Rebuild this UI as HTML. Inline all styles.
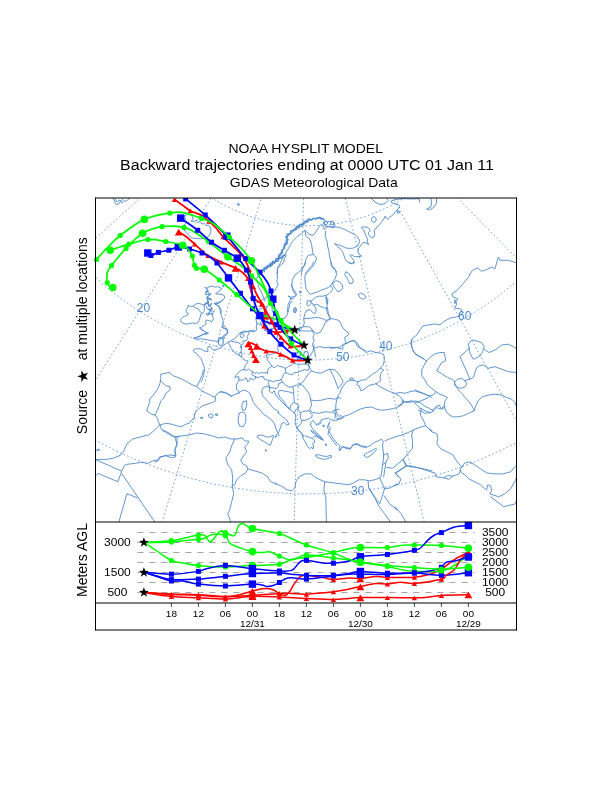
<!DOCTYPE html>
<html lang="en"><head><meta charset="utf-8"><title>NOAA HYSPLIT MODEL - Backward trajectories</title>
<style>html,body{margin:0;padding:0;background:#fff}body{width:612px;height:792px;position:relative;overflow:hidden}</style></head>
<body>
<svg width="612" height="792" viewBox="0 0 612 792" style="position:absolute;left:0;top:0">
<defs><clipPath id="mc"><rect x="96" y="198" width="420.5" height="324"/></clipPath><clipPath id="mc2"><rect x="93" y="198" width="423.5" height="324"/></clipPath></defs>
<g clip-path="url(#mc)" fill="none" stroke="#4f8acb" stroke-width="0.9" stroke-linejoin="round" stroke-linecap="round">
<path d="M184.5 216.0L187.0 214.5L190.0 214.8L192.5 216.5L193.0 219.5L191.0 221.0L194.0 221.5L196.0 220.0L198.0 222.5L200.0 221.5L202.0 224.0L204.5 223.5L206.0 225.5L208.5 225.0L210.0 227.0L211.0 230.0L210.5 233.0L209.0 236.0L206.0 238.0L201.0 238.8L196.0 238.5L192.0 238.0L189.0 235.5L186.5 233.0L184.0 230.0L185.5 227.5L183.5 225.5L186.0 223.5L184.0 221.5L185.5 219.0L184.5 216.0"/>
<path d="M113.0 198.0L114.5 201.0L116.0 204.5L118.5 204.0L120.0 201.5L122.0 203.0L124.0 200.5L126.0 201.5L128.0 199.5L130.0 198.0"/>
<path d="M115.0 199.0L117.0 202.0L119.0 200.0L121.0 201.0L123.0 199.0"/>
<path d="M199.7 327.5L202.2 329.3L204.7 331.8L206.6 333.7L202.8 334.3L199.7 336.2L196.6 337.4L193.5 338.0L196.6 339.3L200.4 338.7L204.1 339.3L207.8 339.9L211.5 340.5L215.3 341.1L218.4 341.1L220.2 339.3L222.1 338.0L224.6 336.2L227.1 334.3L227.7 331.2L225.8 328.7L222.1 327.5"/>
<path d="M254.0 330.6L248.8 331.2L245.7 331.8L242.6 332.5L240.1 333.1L237.6 335.6L234.5 338.7L231.4 340.5L227.7 342.4L223.3 345.5L220.2 348.0L217.1 349.2L214.6 350.5L212.2 349.2L210.3 346.7L208.4 346.1L207.8 348.0L207.8 351.7L204.7 351.1L201.6 349.2L197.9 348.6L194.1 349.2L193.5 351.7L196.0 352.9L198.5 356.0L201.0 358.5L202.2 361.6L203.5 365.4L204.7 368.5L204.1 372.2L203.5 375.9L202.2 379.6L201.0 382.0"/>
<path d="M242.0 333.4L243.6 334.3L243.8 336.2L242.6 337.7L240.7 337.2L240.1 335.2L242.0 333.4"/>
<path d="M263.3 270.3L267.5 267.0L271.7 263.7L276.7 259.5L280.0 255.3L282.5 250.3L285.0 245.3L287.5 240.3L285.8 237.0L290.0 232.8L294.2 229.5L298.3 226.2L303.3 223.7L308.3 220.3L313.3 218.7L319.2 217.8L323.3 218.7L326.7 222.0L330.0 221.2L333.3 222.0L335.0 225.3L333.3 227.8"/>
<path d="M285.8 237.0L288.3 235.7L290.8 234.0L293.3 231.2L296.7 229.5L300.0 227.0L303.3 225.3"/>
<path d="M265.0 268.7L269.2 265.7L273.3 262.8L277.5 258.3L280.3 254.0L283.3 249.0L286.3 244.0L288.3 239.5"/>
<path d="M301.3 274.0L302.5 268.7L305.0 263.7L305.8 259.5L308.3 255.3L313.3 254.5L316.7 257.8L315.0 262.8L312.5 267.0L308.3 271.2L305.8 274.0"/>
<path d="M376.7 227.8L380.8 222.8L384.2 218.7L385.0 216.2L387.5 219.5L390.0 217.0L393.3 214.5L395.8 211.2L398.3 208.7L400.0 207.0L398.3 204.5L395.0 203.7L391.7 202.8L390.8 201.2L395.0 199.5L403.3 198.7L411.7 199.0L419.2 198.7L419.7 202.0"/>
<path d="M397.3 211.0L399.3 211.0L399.3 213.0L397.3 213.0L397.3 211.0"/>
<path d="M373.8 216.5L375.8 217.8L376.3 220.0L375.0 222.0L373.0 222.3L371.5 220.7L371.5 218.3L373.8 216.5"/>
<path d="M371.7 198.7L375.0 202.0L380.0 204.5L385.0 203.7L388.3 200.3L386.7 198.7"/>
<path d="M436.7 198.7L436.3 203.7L433.3 207.8L429.2 210.0L426.7 209.0L430.8 207.0L431.7 202.8L430.8 198.7"/>
<path d="M305.5 262.0L304.3 265.7L301.2 269.5L298.1 272.6L295.0 275.0L292.5 279.4L291.9 284.4L292.5 289.3L294.3 293.0L296.2 294.9L294.3 297.4L291.9 299.3L290.0 298.3"/>
<path d="M299.9 291.3L301.2 291.8L300.9 293.0L299.7 292.8L299.9 291.3"/>
<path d="M295.6 307.9L296.8 309.8L295.2 312.9L293.5 311.9L295.6 307.9"/>
<path d="M313.6 262.0L311.7 265.7L308.6 269.5L306.1 272.6L304.9 276.3L304.9 280.6L305.5 285.0L306.1 288.7L308.0 291.8L310.5 294.3L314.2 293.0L317.9 291.8L321.7 289.9L325.4 288.7L328.5 287.5L330.4 285.6L332.8 288.7L331.6 291.2L329.1 293.7L326.0 295.5L322.3 296.2L318.6 296.2L315.5 297.4L313.0 299.3L311.1 301.7L313.3 304.8L315.5 307.3L316.3 311.1L314.8 313.5L313.0 312.9L309.9 309.3L306.8 310.6"/>
<path d="M332.8 283.7L335.9 280.6L339.7 281.9L342.2 285.0L342.8 288.1L340.9 290.6L337.8 291.8L335.3 288.7L333.5 286.2L332.8 283.7"/>
<path d="M345.9 271.9L348.4 273.2L350.8 276.3L353.3 280.0L352.7 283.1L349.6 283.7L348.4 280.6L346.5 277.5L344.6 274.4L345.9 271.9"/>
<path d="M348.4 262.0L350.2 263.5L352.7 263.7L354.6 262.5"/>
<path d="M358.3 294.3L360.8 293.0L364.5 294.9L366.0 297.4L363.3 299.3L360.2 298.0L358.3 294.3"/>
<path d="M307.4 301.1L310.5 300.5L311.1 303.6L308.6 306.1L306.8 304.8L307.4 301.1"/>
<path d="M326.0 297.4L327.9 299.3L327.5 304.2L326.3 302.0L326.0 297.4"/>
<path d="M306.8 310.6L304.9 313.7L303.7 318.6L304.3 323.0L303.0 326.7L300.6 329.2L298.7 329.8L296.2 329.8"/>
<path d="M294.0 308.7L295.6 307.7L296.2 309.7L294.7 312.4L293.5 311.4L294.0 308.7"/>
<path d="M285.0 255.0L281.3 256.9L277.5 260.0L273.8 263.1L270.1 265.6L266.4 267.4L263.2 269.9L260.1 273.0L257.7 276.1L256.4 279.8L257.7 283.6L258.9 287.3L260.8 291.0L262.6 294.7L263.9 298.5L265.1 301.2"/>
<path d="M283.7 255.6L280.0 258.5L276.5 261.5L272.8 264.3L268.8 266.8L265.4 268.9L262.6 271.4"/>
<path d="M291.2 284.2L292.4 287.9L294.9 291.6L296.8 294.7L294.3 296.6L290.6 297.2L288.1 296.0L291.8 298.5L289.9 300.9L288.1 304.7L287.7 308.4L287.5 312.0"/>
<path d="M267.3 306.3L259.6 309.0L257.0 312.5L255.8 319.0L256.9 323.3L256.2 327.1L256.9 329.9L253.7 332.0L249.6 330.5L248.9 332.4L245.2 330.9L242.6 331.7L239.8 333.1"/>
<path d="M267.3 306.3L265.5 310.7L267.1 314.3L264.2 316.5L261.7 320.1L260.4 323.2L261.7 324.7L262.4 327.5L265.8 328.1L264.2 330.5L266.9 330.9L269.4 329.9L271.2 328.2L273.0 329.0L274.7 327.3L275.6 330.0L277.2 332.8L282.4 331.4L288.0 329.2L293.4 328.2L294.5 328.9L294.4 330.9L297.0 331.6L299.0 330.4L299.4 327.8L301.7 327.5"/>
<path d="M271.8 317.6L272.5 321.0L271.0 323.5L269.7 325.0L266.9 322.9L267.0 319.6L269.9 318.0L271.8 317.6"/>
<path d="M264.0 319.8L265.5 322.0L264.6 323.5L262.4 322.9L262.1 320.1L264.0 319.8"/>
<path d="M270.7 297.4L270.6 302.7L271.8 306.9L272.3 311.0L274.4 314.6L273.0 317.1L274.0 321.2L273.8 322.5L278.3 323.0L278.5 321.1L280.2 319.2L284.7 318.3L287.1 315.2L288.5 310.7L289.2 306.8L290.2 302.8L292.3 301.6"/>
<path d="M270.7 297.4L269.3 293.1L266.6 297.4L262.3 300.0L256.8 302.4L253.8 299.7L251.8 294.5L251.9 287.7"/>
<path d="M203.3 370.0L202.5 374.2L200.0 380.0L196.7 386.7L192.5 385.0L186.7 381.7L180.0 378.3L173.3 375.8L169.2 372.5L165.0 373.3L160.8 374.2L160.8 378.3L160.0 383.3L157.5 389.2L153.3 395.0L149.2 400.0L150.0 401.7L148.3 405.8L146.7 410.8L151.7 414.2L155.0 415.0L157.5 418.3L158.3 421.7L160.0 425.0L162.5 424.2L166.7 423.3L171.7 424.2L176.7 425.8L181.7 426.7L185.8 424.2L189.2 423.3L191.7 420.0L194.7 418.3L194.2 415.0L195.8 411.7L199.2 408.3L202.5 405.8L207.5 404.2L212.5 402.5L215.8 400.8L215.0 397.5L216.7 394.2L220.8 391.7L225.8 392.5L229.2 395.0L232.0 396.7"/>
<path d="M200.8 417.5L202.5 417.2L202.7 418.5L201.2 418.8L200.8 417.5"/>
<path d="M208.3 415.0L210.8 413.7L213.3 415.3L212.0 418.0L209.3 417.3L208.3 415.0"/>
<path d="M215.5 414.2L217.5 413.8L217.8 415.3L215.8 415.5L215.5 414.2"/>
<path d="M220.0 391.7L224.2 392.5L228.3 394.2L231.7 395.8L235.8 394.2L239.2 392.5L241.7 390.8L245.0 390.0L249.2 392.5L251.7 397.5L253.3 402.5L256.7 406.7L260.0 410.0L263.3 414.2L267.5 416.7L270.8 419.2L274.2 423.3L275.8 428.3L277.5 432.5L279.2 435.8"/>
<path d="M278.3 433.3L279.2 430.8L280.8 426.7L281.7 423.3L284.2 422.5L286.7 425.0L289.2 424.2L286.7 420.0L282.5 416.7L277.5 412.5L279.2 412.0L277.5 410.8L273.3 408.3L270.0 404.2L266.7 400.0L262.5 395.8L261.7 390.8L263.3 387.5L268.3 385.8L270.0 387.5L269.2 390.8L271.7 393.3L274.2 390.8L275.8 395.0L279.2 399.2L283.3 403.3L287.5 407.5L291.7 410.8L295.0 413.3L295.8 417.5L295.0 422.5L296.7 427.5L299.2 430.8L301.7 433.3L303.3 437.0"/>
<path d="M243.3 401.7L246.7 400.8L246.7 405.8L245.0 410.0L242.5 410.0L241.7 405.8L243.3 401.7"/>
<path d="M239.2 413.3L243.3 411.7L245.8 415.0L245.8 421.7L243.3 426.7L239.2 425.8L238.0 420.0L239.2 413.3"/>
<path d="M461.8 466.9L464.8 462.9L469.8 461.9L474.7 464.9L480.7 468.9L486.7 472.9L494.7 473.9L502.6 473.9L510.6 471.9L514.6 466.9L517.0 464.9"/>
<path d="M461.8 466.9L459.8 469.9L461.8 472.9L464.8 474.9L468.8 478.8L474.7 481.8L480.7 484.8L483.7 487.8L486.7 489.8L487.7 484.8L490.7 485.8L491.7 490.8L489.7 493.8L492.7 494.8L498.7 496.8L504.6 493.8L510.6 488.8L514.6 481.8L517.0 476.8"/>
<path d="M395.0 506.7L401.0 513.7L406.0 522.1"/>
<path d="M275.0 483.8L281.0 485.8L287.0 489.8L291.9 490.8L294.9 487.8L295.9 481.8L298.9 476.8L304.9 473.9L310.9 473.9L315.9 477.8L324.8 481.8L332.8 482.8L340.8 483.8L348.8 484.8L353.7 482.8L358.7 479.8L364.7 479.8L368.7 480.8L374.7 479.8L379.7 477.8"/>
<path d="M368.1 481.0L368.7 487.8L372.7 493.8L376.7 499.8L379.7 503.8L381.7 497.8L383.6 491.8L384.6 487.8"/>
<path d="M368.7 487.8L374.7 497.8L378.7 505.8L384.6 513.7L390.6 522.1"/>
<path d="M384.2 495.8L389.6 503.8L397.0 509.7"/>
<path d="M163.0 430.0L169.0 433.0L174.9 437.0L180.9 436.0L188.9 435.0L196.9 433.0L204.8 434.0L212.8 436.0L218.8 438.0L224.8 437.0L230.8 439.0L236.7 439.0L242.7 438.0L244.7 441.0L248.7 441.0L247.7 444.0L244.7 446.9L246.7 451.9L243.7 455.9L240.7 459.9L242.7 463.9L246.7 465.9L247.7 468.9L254.7 470.9L261.7 472.9L267.6 476.8L270.6 481.8L277.0 483.8"/>
<path d="M159.8 424.9L154.8 429.9L148.8 434.9L140.8 436.9L132.9 438.9L126.9 443.9L123.9 450.8L120.9 454.8L114.9 457.8L107.0 459.4L100.0 459.4L95.0 459.8"/>
<path d="M96.6 450.2L99.0 449.0L99.8 449.8L97.4 451.0L96.6 450.2"/>
<path d="M334.4 226.8L339.4 227.4L344.4 229.3L349.3 231.8L354.3 234.2L357.4 236.7L359.3 239.8L359.3 242.9L357.4 246.0L353.7 247.9L349.9 248.5L345.6 247.9L341.9 246.0L338.1 244.8L334.4 243.6L337.5 246.7L340.6 249.2L342.5 251.6L343.7 254.7L345.0 258.5L346.2 260.9L348.7 262.8L351.8 263.4L354.3 262.2L353.0 259.1L351.2 257.2L349.9 255.4L351.8 254.7L354.3 256.6L358.0 256.6L361.7 256.0L359.3 254.7L358.0 252.3L358.0 249.2L359.9 246.7L361.7 244.2L363.6 242.3L366.1 242.9L368.6 244.8L367.3 241.7L367.7 239.2L366.1 236.1L364.8 233.0L363.6 229.9L361.1 227.4L364.8 226.8L367.9 227.4L370.4 230.5L368.6 232.4L368.6 234.9L371.7 238.0L374.2 236.7L374.8 233.6L374.2 230.5L376.6 227.4"/>
<path d="M324.5 222.5L326.3 221.2L328.0 222.7L326.7 224.7L324.7 224.3L324.5 222.5"/>
<path d="M330.7 222.7L332.6 221.2L334.2 222.7L333.2 224.9L331.2 224.7L330.7 222.7"/>
<path d="M322.6 218.7L324.5 220.6L323.2 223.1L325.1 226.2L329.5 226.8L334.4 226.8"/>
<path d="M159.8 424.9L161.8 429.9L166.8 432.9L171.7 435.9L176.7 436.9L179.7 436.5"/>
<path d="M257.4 436.0L260.5 434.8L264.2 436.0L267.9 437.3L271.7 436.0L273.5 435.4L272.9 438.5L271.7 441.6L270.4 445.3L267.9 444.1L264.2 441.6L260.5 439.7L257.4 437.3L257.4 436.0"/>
<path d="M265.5 449.9L266.6 450.4L266.3 451.4L265.3 450.9L265.5 449.9"/>
<path d="M276.6 434.2L275.4 436.6L274.8 437.5L276.0 437.0L277.3 436.0"/>
<path d="M340.0 417.0L337.5 415.0L335.8 410.0L335.8 405.0L336.7 400.0L338.3 395.0L340.0 393.3L340.8 390.0L343.3 385.8L346.7 381.7L350.8 380.0L355.0 380.8L358.3 381.7L356.7 384.7L359.2 385.8L360.8 390.8L364.2 389.2L367.5 386.7L370.0 385.0L374.2 384.2L375.8 383.7L380.0 386.7L385.0 389.2L390.0 391.7L395.0 393.3L399.2 395.8L401.7 398.3L402.5 402.5L400.0 405.0L398.3 405.3"/>
<path d="M358.3 381.7L361.7 380.0L365.0 380.0L368.3 377.5L372.5 374.2L376.7 371.7L380.0 368.3L383.7 370.0L380.8 373.3L380.0 377.5L380.8 380.0L378.3 382.5L375.8 383.7"/>
<path d="M349.7 378.7L351.7 377.7L353.7 379.0L351.7 380.7L349.7 378.7"/>
<path d="M426.7 360.8L424.2 365.0L421.7 370.0L421.7 375.8L425.0 380.0L427.5 385.0L431.7 388.3L435.8 391.7L440.0 394.2L444.2 395.8L447.5 397.5L445.0 400.8L444.2 405.8L445.8 410.8L449.2 415.0L453.3 417.0L458.3 416.7L463.3 415.8L468.3 413.3L474.2 410.8L473.3 408.3L470.8 404.2L467.5 400.0L465.0 397.5L462.5 394.2L459.2 390.8L456.7 387.5L454.2 384.2L455.0 381.7L451.7 379.2L447.5 377.5L443.3 375.0L440.0 372.5L436.7 370.8L439.2 366.7L441.7 362.5L445.8 360.8L445.0 356.7L444.2 352.5L440.0 352.5L434.2 354.2L430.0 357.5L426.7 360.8"/>
<path d="M455.0 381.7L457.5 379.2L461.7 378.3L465.0 380.8L466.7 384.2L464.2 387.5L460.0 388.3L456.7 386.7L455.0 383.7"/>
<path d="M469.2 348.3L468.3 344.2L470.8 340.8L473.3 340.0L481.7 342.5L484.2 346.7L482.5 351.7L480.0 355.8L475.8 358.3L473.3 359.2L470.8 355.0L469.2 350.8L469.2 348.3"/>
<path d="M340.0 415.0L342.5 416.7L348.3 415.0L355.0 411.7L360.0 409.2L365.8 407.5L371.7 407.0L376.7 409.2L381.7 410.3L387.5 409.7L392.5 408.7L396.7 407.5L401.7 405.0L403.3 401.7L403.3 400.0"/>
<path d="M340.0 450.0L342.5 446.7L345.8 448.3L350.0 449.2L353.3 444.2L357.5 444.7L361.7 446.7L365.8 447.5L370.0 445.8L374.2 442.5L378.3 440.8L381.7 439.2L383.3 441.7L382.5 445.0L383.0 450.0L383.7 455.0L383.3 460.0L382.5 465.0L382.0 470.0L380.8 477.0"/>
<path d="M364.2 455.0L367.5 452.5L371.7 450.8L375.8 448.3L376.7 449.2L374.2 452.5L370.0 455.8L366.7 457.5L364.2 455.8L364.2 455.0"/>
<path d="M296.8 428.0L299.3 431.1L301.8 433.6L303.7 436.0L302.4 437.3L304.3 440.4L306.1 443.5L307.4 446.6L309.9 448.5L311.7 447.2L313.0 449.1L313.6 446.0L312.4 443.5L314.8 442.3L314.2 439.8L312.4 438.5L309.9 437.5L307.4 436.7L304.9 435.8"/>
<path d="M313.0 420.5L311.1 422.4L310.5 424.9L311.7 427.4L313.6 429.8L316.1 432.3L319.2 435.4L321.7 437.9L323.5 440.4L321.0 439.2L317.9 437.3L314.8 436.0L313.0 437.5"/>
<path d="M311.1 430.5L313.6 431.7L316.7 434.2L319.8 436.7L322.9 439.8L320.4 438.5L317.3 436.0L314.2 433.8L311.4 431.7L311.1 430.5"/>
<path d="M313.0 420.5L315.5 423.6L316.7 425.5L317.6 423.4L318.8 424.9L319.6 422.4L320.8 423.4L321.0 419.9L324.8 418.7L328.5 418.0L331.0 419.9L335.9 420.5L340.9 418.7L343.4 417.4L339.7 418.4L336.6 418.9"/>
<path d="M329.7 421.8L328.5 425.5L330.4 428.6L329.1 431.7L331.0 434.8L332.8 437.9L335.3 441.0L337.8 444.1L340.3 446.0L339.1 448.5L339.7 450.9L341.5 447.8L343.4 446.6L347.1 447.8L350.8 448.5L353.3 444.7L357.1 443.5L361.4 446.0L366.0 446.6"/>
<path d="M328.7 423.6L327.3 427.4L329.1 430.5L327.9 434.2L330.0 436.7L332.0 439.8L334.1 442.3L336.6 445.4"/>
<path d="M332.8 411.8L334.7 414.3L337.2 416.8"/>
<path d="M322.9 425.5L324.2 425.2L324.4 426.4L323.2 426.6L322.9 425.5"/>
<path d="M325.5 444.2L326.5 444.2L326.5 445.4L325.5 445.4L325.5 444.2"/>
<path d="M315.5 455.3L318.6 454.7L322.3 455.9L326.6 456.5L331.0 455.3L331.6 457.2L327.9 458.6L323.5 459.4L319.2 458.2L316.1 456.9L315.5 455.3"/>
<path d="M258.4 276.7L258.8 271.7L262.9 272.7L262.6 269.1L267.0 268.7L267.6 265.3L271.0 266.9L270.9 262.8L274.3 263.7L275.2 261.0L278.7 261.4L278.6 257.4L282.0 258.4L282.8 255.3L285.0 255.0"/>
<path d="M264.7 272.0L264.1 267.0L268.0 267.7L269.0 264.6L272.9 265.2L272.1 260.9L276.1 262.2L275.7 258.7L279.6 258.5L278.5 254.6L282.7 253.6L281.6 249.9L285.0 248.5L283.8 244.7L287.9 243.7L285.5 241.3L287.4 238.5L286.8 233.8L290.9 233.9L291.4 230.3L294.7 230.1L295.8 227.2L299.0 227.5L300.3 223.8L304.1 224.8L303.8 220.8L307.5 222.7L307.8 218.8L311.2 220.5L313.2 217.9L316.4 219.5L319.4 216.9L321.0 219.7L323.3 218.7"/>
<path d="M264.0 271.2L263.9 268.3L266.9 269.1L266.6 265.9L269.7 266.9L269.4 263.7L272.0 264.1L272.7 261.5L275.9 262.0L275.8 258.8L278.9 259.0L278.4 256.3L280.9 255.8L280.2 253.3L282.6 252.5L281.5 249.9L283.8 248.9L283.5 246.7L285.7 245.7L284.6 243.0L287.8 242.6L286.9 240.6L287.8 238.1L285.4 236.5L288.0 236.4L288.2 233.8L290.3 233.2L290.5 230.7L293.2 231.2L293.7 228.9L296.5 229.5L296.1 226.2L298.7 226.9L299.3 224.0L302.1 225.4L302.7 222.7L305.4 223.1L305.9 220.2L308.7 221.5L309.5 218.4L312.1 220.5L313.2 217.9L315.4 219.2L317.1 217.5L319.0 218.5L321.4 217.7L323.3 218.7"/>
<path d="M188.2 305.7L190.3 306.5L193.1 306.1L195.6 304.1L198.4 303.3L201.3 304.1L204.1 305.3L204.6 308.2L204.1 311.4L202.5 313.5L200.5 314.7L200.1 317.6L199.2 320.4L198.0 322.5L195.6 323.7L193.1 322.9L190.3 323.3L187.0 324.1L184.1 323.7L181.3 322.1L180.5 319.6L182.1 317.6L184.5 316.3L187.4 315.1L188.6 313.5L186.2 312.3L185.8 310.2L187.4 308.2L188.2 305.7"/>
<path d="M206.2 306.1L207.4 309.0L210.7 310.6L214.4 311.4L212.3 313.1L212.7 316.3L213.5 318.8L211.9 321.7L209.5 320.8L206.2 320.0L205.4 322.1L206.6 323.7L204.6 324.9L201.7 327.0L199.7 328.2L201.3 329.8L203.7 330.6L205.8 332.3L208.6 333.1L207.0 333.9L204.1 334.3L200.9 335.5L197.6 337.2L195.6 338.0"/>
<path d="M206.4 313.9L208.4 313.4L209.0 314.7L207.2 315.5L206.4 313.9"/>
<path d="M222.5 300.0L220.5 301.6L216.4 302.9L213.9 303.3L216.4 304.9L218.8 306.5L220.1 309.8L220.5 313.1L221.7 316.3L222.9 319.6L223.3 322.9L222.5 325.3L222.9 327.8L224.6 328.6L227.0 329.8L228.0 331.5"/>
<path d="M207.1 287.9L211.0 285.9L215.6 287.2L217.6 286.6L222.1 288.6L218.9 291.2L215.6 293.8L218.9 294.1L222.8 294.8L224.8 296.1L224.1 298.7L221.5 301.3L218.9 303.3L215.6 303.9L214.3 303.6L216.9 304.9L219.2 306.2L220.5 308.5L221.2 311.1L221.2 313.0"/>
<path d="M222.5 285.3L223.8 285.6L224.0 286.8L222.8 286.7L222.5 285.3"/>
<path d="M204.8 287.3L207.4 288.9L205.6 294.8L211.2 293.7L206.3 297.7L211.8 299.8L207.3 298.3L208.7 302.7L203.5 305.3L208.2 301.4L208.6 306.3L211.8 303.4L210.0 306.0L212.0 308.0L208.0 314.0L212.0 314.0"/>
<path d="M205.5 287.5L208.3 290.1L205.0 292.6L208.1 291.1L208.2 292.7L209.8 294.9L207.1 296.9L211.5 299.5L207.2 298.2L208.2 302.2L204.1 304.4L207.5 302.5L208.5 305.9L211.4 303.5L209.5 305.8L212.6 308.6L208.2 309.3L211.5 309.8L209.3 312.7L212.0 314.0"/>
<path d="M222.5 324.0L223.9 325.8L225.8 327.7L227.7 329.6L227.1 332.7L224.6 335.2L222.7 336.4L224.6 337.6L223.3 339.5"/>
<path d="M237.5 204.0L239.0 203.6L239.6 205.0L238.0 205.4L237.5 204.0"/>
<path d="M277.5 274.0L277.5 267.8L280.0 263.7L282.5 258.7L285.8 252.8L289.2 247.0L292.5 241.2L296.7 237.0L302.5 232.8L305.0 230.3"/>
<path d="M305.0 230.3L309.2 234.5L313.3 235.3L315.8 232.0L318.3 227.8L320.8 224.5L323.3 226.2L324.2 229.5L328.3 226.2L333.3 227.8"/>
<path d="M305.0 230.3L305.8 236.2L310.0 239.5L311.7 245.3L312.5 250.3L313.3 254.5"/>
<path d="M470.0 274.0L472.5 270.3L477.5 267.8L481.7 271.2L486.7 269.5L491.7 267.0L495.0 268.7L498.3 257.0L500.0 260.3L508.3 260.3L517.0 263.0"/>
<path d="M331.0 262.0L332.2 265.7L335.3 269.5L336.6 274.4L334.7 279.4L332.2 283.1L330.4 285.6"/>
<path d="M326.0 295.5L326.6 298.0L327.3 303.0L326.6 308.6"/>
<path d="M313.3 305.2L316.7 304.2L321.0 306.7L326.6 308.6L327.3 312.9L329.1 316.6L330.4 319.0"/>
<path d="M303.9 318.6L306.1 318.6L312.4 318.0L317.9 317.4L322.3 318.6L326.0 320.5L330.4 318.6"/>
<path d="M327.3 307.5L328.5 313.7L330.4 318.6L334.7 319.2L339.1 320.5L340.9 323.6L342.8 327.9L345.9 331.0L349.0 333.5L347.1 336.0L344.6 337.3L345.3 341.0L346.5 343.5"/>
<path d="M330.4 318.6L327.3 321.1L324.8 323.0L323.5 326.7L321.7 329.8L320.4 332.3L316.1 333.5L314.2 331.7L312.4 331.0"/>
<path d="M303.0 326.7L308.6 326.7L311.7 328.6L312.4 331.0L304.9 331.0L298.7 330.4"/>
<path d="M312.4 331.0L314.2 334.2L313.0 337.3L314.2 341.0L312.4 344.1L313.6 347.8L314.8 352.2L315.5 357.0"/>
<path d="M346.5 343.5L343.4 344.1L339.7 347.2L334.7 347.8L329.7 347.2L324.8 347.8L319.8 346.6L315.5 347.8L313.3 347.8"/>
<path d="M346.5 343.5L350.8 341.0L354.6 340.4L357.7 343.5L359.5 347.2L363.3 349.7L366.0 350.9"/>
<path d="M286.2 255.0L284.4 258.7L283.7 262.5L280.0 265.6L277.5 268.7L276.9 273.6L277.5 278.0L276.9 281.7L278.2 284.8L276.3 287.9L275.0 290.4L273.2 292.3"/>
<path d="M256.9 323.3L259.8 324.4L261.7 324.7"/>
<path d="M196.7 386.7L201.7 390.8L206.7 393.3L211.7 395.8L215.0 397.5"/>
<path d="M155.0 415.0L157.5 410.0L159.2 405.8L160.8 400.8L164.2 397.5L165.8 393.3L170.0 390.0L170.0 386.7L165.8 385.8L162.5 382.5L160.8 380.8"/>
<path d="M314.0 345.0L313.2 350.8L310.7 355.0L307.3 360.8L309.0 366.7L311.5 370.8L315.7 372.5L320.7 373.3L325.7 370.8L329.8 369.2L334.8 370.0L339.0 374.2L341.5 378.3L343.2 381.7L341.5 384.2L339.8 386.7L338.2 388.3"/>
<path d="M329.8 369.2L332.3 374.2L334.8 379.2L336.5 384.2L338.2 388.3"/>
<path d="M311.5 370.8L308.2 374.2L305.7 378.3L302.3 382.5L299.0 384.2L302.3 385.0L306.5 390.0L309.8 395.0L310.7 400.0L315.7 400.8L322.3 400.0L329.0 398.3L334.8 399.2L338.2 397.5L340.7 398.3"/>
<path d="M310.7 400.0L311.5 405.0L309.8 409.2L312.3 412.5L319.0 413.3L325.7 411.7L330.7 412.5L334.8 410.0L339.0 409.2"/>
<path d="M334.8 410.0L335.7 415.0L334.8 418.3"/>
<path d="M454.8 300.0L456.8 304.0L454.8 308.0L460.8 309.0L462.8 313.0L456.8 316.9L450.8 317.9L444.8 320.9L439.9 324.9L434.9 323.9L428.9 324.9L422.9 325.9L419.9 329.9L416.9 334.9L411.9 338.9L410.9 343.9L412.9 349.8L415.9 354.8L420.9 356.8L424.9 359.8"/>
<path d="M426.9 426.9L431.9 431.8L436.9 433.8L437.9 438.8L436.9 443.8L440.8 448.8L446.8 451.8L452.8 454.8L455.8 459.8L458.8 463.7L461.8 466.7"/>
<path d="M403.0 459.9L406.0 465.9L410.0 465.9L418.9 467.9L430.9 471.9L434.9 472.9L435.9 476.8L443.8 477.8L447.8 475.5L452.8 476.2L458.8 473.9L460.8 469.9"/>
<path d="M443.8 477.8L448.8 479.4L452.8 476.2"/>
<path d="M406.0 465.9L395.0 472.9"/>
<path d="M395.0 472.9L401.0 478.8L399.0 483.8L395.0 485.8"/>
<path d="M490.7 496.8L503.6 506.7L515.6 503.8L517.0 497.8"/>
<path d="M324.8 481.8L323.8 489.8L325.8 497.8L326.4 522.1"/>
<path d="M379.7 477.8L384.6 488.8"/>
<path d="M384.6 488.8L390.6 487.8L397.0 483.8"/>
<path d="M174.9 437.0L176.9 444.0L174.9 449.9L175.9 455.9L170.0 454.9L164.0 455.9L159.0 457.9L158.0 460.9L155.0 461.9"/>
<path d="M234.7 439.0L231.7 445.9L229.8 451.9L225.8 457.9L227.8 464.9L231.7 469.9L232.7 477.8L232.3 485.8"/>
<path d="M247.7 468.9L245.7 472.9L240.7 475.8L236.7 479.8L234.7 484.8L232.3 485.8L233.7 493.8L231.7 501.8L229.8 509.7L227.8 513.7L230.8 522.1"/>
<path d="M177.1 437.3L177.1 443.9L174.7 450.8L175.7 456.8L171.7 457.8L165.8 455.8L159.8 456.8L158.8 459.8L152.8 460.8L147.8 463.4L141.8 462.2L134.9 463.4L127.9 464.2L124.5 465.4L121.9 470.8L117.9 481.7L98.0 473.4L95.0 476.7"/>
<path d="M95.0 459.4L120.9 470.8"/>
<path d="M121.9 473.8L154.8 522.0"/>
<path d="M136.9 497.7L126.9 493.7L118.9 522.0"/>
<path d="M277.3 332.7L277.6 336.8L276.2 339.7L277.9 341.5L278.2 344.8L277.7 348.4L278.5 352.1L277.6 352.9"/>
<path d="M266.0 355.2L269.0 354.9L271.6 354.0L274.2 353.3L275.6 351.5L277.6 353.0L280.0 353.7L283.2 355.2L283.9 357.2L286.0 356.4L288.1 357.5L290.1 359.3L292.8 360.1L293.9 363.1L291.5 364.9L288.3 366.7L285.4 368.4L282.7 367.0L279.3 366.4L277.2 365.2L274.8 367.6L272.7 367.0L271.9 366.1L270.0 363.7L267.4 360.1L266.9 357.7L266.0 355.2"/>
<path d="M293.9 363.1L296.2 363.8L297.9 365.2L300.5 364.3L303.0 364.0L305.6 364.0L309.7 366.0L308.0 370.6L305.1 369.6L300.8 370.9L297.7 372.4L294.1 372.6L293.2 374.2L289.6 374.4L286.2 372.5"/>
<path d="M285.4 368.4L285.4 371.5L286.2 372.5L283.4 374.3L282.9 376.2L281.8 378.8L280.8 379.5"/>
<path d="M252.6 371.5L254.9 373.6L256.5 372.2L258.6 373.5L261.4 372.6L264.0 372.9L266.7 372.6L267.4 374.0L267.7 372.1L268.0 369.1L270.2 367.3L271.9 366.1"/>
<path d="M255.6 376.7L257.9 377.7L260.4 376.4L263.5 376.8L264.1 379.2L269.8 380.6L273.3 382.0L275.7 380.6L278.7 380.5L280.8 379.5"/>
<path d="M252.6 371.5L251.8 374.7L255.6 376.7"/>
<path d="M243.9 369.6L246.5 370.4L248.5 369.1L250.5 370.5L252.6 371.5"/>
<path d="M243.9 369.6L241.0 370.3L238.0 373.1L235.8 375.6L234.8 377.4L238.8 376.6L239.0 380.0L243.0 380.1L246.0 377.7L247.8 382.0L249.7 380.0L250.1 378.1L253.4 380.0L255.3 378.6L255.6 376.7"/>
<path d="M239.0 380.0L236.4 384.8L236.6 389.6L239.9 392.3L238.6 394.0"/>
<path d="M243.9 369.6L245.4 365.2L248.2 361.2L244.9 360.1L242.6 358.6L241.2 356.5"/>
<path d="M241.2 356.5L242.1 354.5L241.1 352.0L239.2 353.2L239.0 355.5L241.2 356.5"/>
<path d="M239.0 355.5L235.3 352.9L233.0 351.0L231.4 348.6L229.7 345.1L228.1 342.4"/>
<path d="M241.1 352.0L241.5 348.0L240.2 347.7L241.3 344.9L238.4 342.5L235.6 342.2L231.8 341.5"/>
<path d="M241.5 348.0L241.4 345.9L243.1 343.9L243.0 340.9L246.3 340.9L247.9 338.2L247.0 336.4L249.5 333.2"/>
<path d="M280.8 379.5L282.4 382.1L278.4 383.8L278.4 386.4L276.4 388.5L272.7 387.9L268.6 387.4"/>
<path d="M269.8 380.6L268.2 382.7L268.9 384.8L269.6 386.9"/>
<path d="M282.4 382.1L285.8 385.0L288.9 387.2L292.6 386.7L296.3 385.2L299.3 385.3"/>
<path d="M292.6 386.7L293.8 391.4L293.5 393.3L288.7 391.8L283.6 390.8L279.4 390.5L278.1 393.0L279.8 397.1L284.2 402.1L286.0 405.5L289.9 408.7"/>
<path d="M293.5 393.3L294.0 397.3L294.3 401.9L291.3 404.5L289.9 408.7"/>
<path d="M294.2 413.5L296.0 409.3L298.0 409.0L299.0 405.4L294.3 402.6"/>
<path d="M308.9 410.8L305.3 411.1L302.8 411.4L300.3 413.7L299.9 411.4L298.0 409.0"/>
<path d="M300.3 413.7L300.4 418.7L302.2 420.4L300.8 423.7L296.9 428.2"/>
<path d="M308.9 410.8L312.2 414.7L311.9 417.1L308.7 418.8L305.2 420.4L302.2 420.4"/>
<path d="M454.8 300.0L454.8 303.8L457.8 298.8L452.8 296.8L451.8 293.8L456.8 290.8L462.8 283.9L468.8 276.9L470.0 273.9"/>
<path d="M325.7 231.1L325.1 236.1L327.0 241.1L327.6 246.0L328.8 251.0L329.5 256.0L330.7 260.9L331.3 265.9L334.4 269.6L336.9 272.0"/>
<path d="M330.0 348.3L336.7 347.5L342.5 349.2L343.3 345.0L347.5 342.5L352.5 340.8L355.8 342.5L357.5 346.7L362.5 349.2L365.8 352.5L370.8 350.8L375.8 352.5L381.7 353.3L384.2 355.8L384.2 360.8L383.3 365.0L380.0 368.3"/>
<path d="M395.0 393.5L400.0 392.5L405.0 393.3L410.0 391.7L415.0 390.8L420.0 392.5L425.0 394.2L430.0 396.7L432.0 397.5"/>
<path d="M402.5 402.5L406.7 401.7L411.7 400.8L416.7 402.5L420.8 400.8L425.0 399.2L428.3 397.5"/>
<path d="M411.7 340.0L411.7 346.7L413.3 351.7L418.3 355.8L424.2 359.2L426.7 361.7"/>
<path d="M474.2 410.8L475.8 405.8L478.3 400.8L482.5 396.7L488.3 395.0L495.0 394.2L501.7 395.0L506.7 397.5L511.7 399.2L515.0 402.5L517.0 408.3"/>
<path d="M469.2 348.3L460.0 356.7L470.0 379.2L466.7 380.0L465.0 380.8"/>
<path d="M470.0 379.2L473.3 377.5L475.0 372.5L476.7 367.5L479.2 365.8L483.3 365.0L488.3 368.3L495.0 366.7L501.7 369.2L508.3 371.7L517.0 372.5"/>
<path d="M484.2 349.2L489.2 352.5L495.0 350.0L501.7 345.0L508.3 344.2L513.3 346.7L517.0 349.2"/>
<path d="M415.0 400.8L420.0 402.5L424.2 405.8L429.2 408.3L433.3 410.8L436.7 407.5L440.8 409.2L444.2 405.8"/>
<path d="M418.3 410.0L425.0 413.3L431.7 412.5L433.3 410.8"/>
<path d="M415.0 390.0L419.2 391.7L423.3 393.3L428.3 395.8L433.3 395.0L435.8 391.7"/>
<path d="M385.0 440.8L390.0 438.7L395.8 436.7L401.7 435.0L408.3 432.5L415.0 429.2L420.8 427.0L425.8 425.8L428.3 428.3L432.0 430.8"/>
<path d="M425.8 425.8L423.3 420.0L420.8 415.8L420.0 411.7L422.5 409.2L420.0 408.3L416.7 405.0L413.3 401.7L408.3 402.5L403.3 401.7"/>
<path d="M420.0 408.3L425.0 410.8L430.0 412.5"/>
<path d="M413.3 430.0L411.7 435.0L412.5 441.7L412.5 448.3L403.3 459.2L406.7 465.8L416.7 467.5L425.0 469.2L432.0 470.8"/>
<path d="M403.3 459.2L392.5 468.3L386.7 467.5"/>
<path d="M406.7 465.8L395.8 473.3L398.3 477.0"/>
<path d="M383.7 455.0L387.5 453.3L388.3 457.5L385.8 462.5L383.3 464.2"/>
<path d="M385.8 462.5L385.0 468.3L384.2 473.3L383.7 477.0"/>
<path d="M431.7 410.8L435.8 406.7L439.2 405.0L441.7 409.2L444.7 407.5"/>
<path d="M193.5 306.4L195.6 308.2L198.0 308.6L199.7 311.4L202.1 313.1"/>
</g>
<g clip-path="url(#mc)" fill="none" stroke="#4f8acb" stroke-width="0.8" stroke-dasharray="1.6 2.4">
<path d="M230.1 116.2L-134.5 447.3"/>
<path d="M251.6 134.3L-12.2 550.2"/>
<path d="M277.2 146.1L133.0 617.0"/>
<path d="M305.0 150.7L290.7 642.9"/>
<path d="M332.9 147.7L449.6 626.1"/>
<path d="M359.1 137.5L598.4 567.9"/>
<path d="M381.7 120.6L726.5 472.2"/>
<path d="M-115.5 192.9L-111.4 204.2L-107.0 215.4L-102.3 226.5L-97.3 237.4L-92.0 248.2L-86.4 258.9L-80.6 269.4L-74.4 279.7L-68.0 289.9L-61.3 299.9L-54.4 309.7L-47.1 319.3L-39.7 328.7L-31.9 338.0L-24.0 347.0L-15.8 355.8L-7.3 364.3L1.3 372.7L10.2 380.8L19.3 388.7L28.6 396.3L38.1 403.6L47.8 410.7L57.7 417.6L67.8 424.2L78.0 430.5L88.4 436.5L99.0 442.2L109.7 447.7L120.6 452.9L131.5 457.8L142.7 462.3L153.9 466.6L165.2 470.6L176.7 474.3L188.2 477.7L199.9 480.7L211.6 483.5L223.4 485.9L235.2 488.0L247.1 489.8L259.0 491.3L271.0 492.4L283.0 493.2L295.0 493.8L307.0 493.9L319.1 493.8L331.1 493.3L343.1 492.6L355.1 491.5L367.0 490.0L378.9 488.3L390.7 486.2L402.5 483.9L414.3 481.2L425.9 478.2L437.5 474.8L448.9 471.2L460.3 467.3L471.5 463.1L482.7 458.5L493.7 453.7L504.6 448.6L515.3 443.1L525.9 437.4L536.3 431.5L546.6 425.2L556.7 418.7L566.6 411.9L576.3 404.8L585.9 397.5L595.2 389.9L604.4 382.1L613.3 374.0L622.0 365.7L630.4 357.2L638.7 348.4L646.7 339.4L654.5 330.2L662.0 320.8L669.2 311.2L676.2 301.5L682.9 291.5L689.4 281.4L695.6 271.0L701.5 260.6L707.1 249.9L712.5 239.2L717.5 228.2L722.3 217.2L726.7 206.0L730.9 194.7L734.7 183.4L738.3 171.9L741.5 160.3"/>
<path d="M10.9 148.9L13.8 156.9L16.9 164.7L20.2 172.5L23.7 180.1L27.4 187.7L31.3 195.2L35.4 202.6L39.7 209.8L44.2 216.9L48.9 224.0L53.8 230.8L58.9 237.6L64.1 244.2L69.5 250.7L75.1 257.0L80.9 263.2L86.8 269.2L92.9 275.0L99.1 280.7L105.5 286.2L112.0 291.6L118.7 296.7L125.5 301.7L132.4 306.5L139.5 311.2L146.7 315.6L154.0 319.8L161.4 323.8L168.9 327.7L176.5 331.3L184.2 334.7L192.0 337.9L199.9 340.9L207.9 343.7L215.9 346.3L224.0 348.7L232.1 350.8L240.4 352.7L248.6 354.4L256.9 355.9L265.3 357.2L273.6 358.2L282.0 359.0L290.5 359.6L298.9 360.0L307.3 360.1L315.8 360.0L324.2 359.7L332.6 359.1L341.0 358.4L349.4 357.4L357.7 356.1L366.1 354.7L374.3 353.0L382.5 351.1L390.7 349.0L398.8 346.7L406.9 344.2L414.8 341.4L422.7 338.4L430.6 335.2L438.3 331.9L445.9 328.3L453.4 324.5L460.9 320.5L468.2 316.3L475.4 311.9L482.5 307.3L489.4 302.5L496.3 297.6L502.9 292.4L509.5 287.1L515.9 281.6L522.2 276.0L528.3 270.1L534.2 264.1L540.0 258.0L545.6 251.7L551.0 245.3L556.3 238.7L561.4 231.9L566.3 225.1L571.0 218.1L575.6 211.0L579.9 203.7L584.1 196.4L588.0 188.9L591.8 181.4L595.3 173.7L598.6 166.0L601.8 158.1L604.7 150.2L607.4 142.2L609.9 134.1L612.1 126.0"/>
<path d="M137.7 104.8L139.4 109.3L141.2 113.8L143.1 118.3L145.1 122.7L147.2 127.0L149.4 131.3L151.8 135.5L154.3 139.7L156.8 143.7L159.5 147.8L162.3 151.7L165.2 155.6L168.2 159.4L171.3 163.1L174.5 166.7L177.8 170.2L181.2 173.7L184.7 177.0L188.3 180.3L191.9 183.4L195.7 186.5L199.5 189.5L203.4 192.3L207.4 195.1L211.4 197.7L215.5 200.3L219.7 202.7L224.0 205.0L228.3 207.2L232.6 209.3L237.1 211.2L241.5 213.1L246.1 214.8L250.6 216.4L255.2 217.9L259.9 219.2L264.5 220.5L269.2 221.6L274.0 222.5L278.7 223.4L283.5 224.1L288.3 224.7L293.1 225.2L297.9 225.5L302.8 225.7L307.6 225.8L312.4 225.7L317.3 225.5L322.1 225.2L326.9 224.8L331.7 224.2L336.5 223.5L341.3 222.7L346.0 221.7L350.7 220.6L355.4 219.4L360.0 218.1L364.7 216.6L369.2 215.1L373.7 213.4L378.2 211.5L382.7 209.6L387.0 207.5L391.3 205.4L395.6 203.1L399.8 200.7L403.9 198.1L408.0 195.5L412.0 192.8L415.9 189.9L419.7 187.0L423.5 183.9L427.1 180.8L430.7 177.6L434.2 174.2L437.6 170.8L440.9 167.3L444.2 163.7L447.3 160.0L450.3 156.2L453.2 152.3L456.0 148.4L458.7 144.4L461.3 140.3L463.8 136.2L466.2 132.0L468.5 127.7L470.6 123.4L472.6 119.0L474.5 114.5L476.3 110.0L478.0 105.5L479.5 100.9L481.0 96.3L482.3 91.6"/>
</g>
<g font-family="'Liberation Sans',sans-serif" font-size="12" fill="#4f8acb" text-anchor="start">
<text x="136.8" y="311.7">20</text>
<text x="217.6" y="345.7">0</text>
<text x="379.2" y="350.0">40</text>
<text x="458.0" y="319.5">60</text>
<text x="336.2" y="361.3">50</text>
<text x="351.0" y="494.8">30</text>
<text x="296.0" y="360.2">20</text>
</g>
<g clip-path="url(#mc2)">
<path d="M294.7 330.0C293.2 330.2 289.1 330.8 286.0 331.2C282.9 331.6 279.2 332.6 276.0 332.3C272.8 332.0 269.0 330.6 267.0 329.5C265.0 328.4 264.6 327.5 264.0 326.0C263.4 324.5 263.4 322.2 263.6 320.5C263.8 318.8 265.1 317.7 265.2 315.8C265.3 313.9 264.9 310.9 264.3 309.0C263.7 307.1 263.2 305.7 261.8 304.2C260.4 302.7 257.5 301.3 256.0 300.0C254.5 298.7 253.6 298.5 252.6 296.3C251.6 294.1 250.8 290.0 250.0 287.0C249.2 284.0 249.1 280.9 247.8 278.5C246.6 276.1 244.5 274.2 242.5 272.5C240.5 270.8 239.1 269.7 235.6 268.0C232.1 266.3 225.9 264.2 221.3 262.1C216.7 260.0 211.4 257.6 207.9 255.5C204.4 253.4 202.7 251.4 200.5 249.5C198.3 247.6 196.9 246.1 194.6 244.0C192.3 241.9 189.2 239.0 186.5 237.0C183.8 235.0 180.0 232.7 178.7 231.8" fill="none" stroke="#ff0000" stroke-width="1.75" stroke-linejoin="round"/><path d="M286.0 329.1 L288.7 333.7 L283.3 333.7Z" fill="#ff0000"/><path d="M276.0 330.2 L278.7 334.8 L273.3 334.8Z" fill="#ff0000"/><path d="M264.0 323.9 L266.7 328.5 L261.3 328.5Z" fill="#ff0000"/><path d="M265.2 312.8 L269.1 319.5 L261.3 319.5Z" fill="#ff0000"/><path d="M261.8 302.1 L264.5 306.7 L259.1 306.7Z" fill="#ff0000"/><path d="M252.6 294.2 L255.3 298.8 L249.9 298.8Z" fill="#ff0000"/><path d="M247.8 276.4 L250.5 281.0 L245.1 281.0Z" fill="#ff0000"/><path d="M235.6 265.0 L239.5 271.7 L231.7 271.7Z" fill="#ff0000"/><path d="M221.3 260.0 L224.0 264.6 L218.6 264.6Z" fill="#ff0000"/><path d="M207.9 253.4 L210.6 258.0 L205.2 258.0Z" fill="#ff0000"/><path d="M194.6 241.9 L197.3 246.5 L191.9 246.5Z" fill="#ff0000"/><path d="M178.7 228.8 L182.6 235.5 L174.8 235.5Z" fill="#ff0000"/>
<path d="M294.7 330.0C293.4 329.7 290.2 329.2 287.0 328.3C283.8 327.4 279.6 326.1 275.6 324.8C271.7 323.5 266.1 321.9 263.3 320.4C260.5 318.9 260.8 317.7 259.0 315.8C257.2 313.9 255.6 312.6 252.5 308.8C249.4 305.1 244.4 298.5 240.4 293.3C236.4 288.1 232.4 282.9 228.5 277.9C224.6 272.8 220.1 266.5 217.0 263.0C213.9 259.5 212.5 258.7 210.0 257.0C207.5 255.3 205.4 254.3 202.0 253.0C198.6 251.7 193.5 250.0 189.6 249.0C185.7 248.0 181.8 246.8 178.3 247.0C174.9 247.2 172.2 249.3 168.9 250.2C165.6 251.1 161.4 251.5 158.4 252.4C155.4 253.3 152.7 255.4 150.9 255.5C149.1 255.6 148.3 253.4 147.8 253.0" fill="none" stroke="#0000ff" stroke-width="1.75" stroke-linejoin="round"/><rect x="273.1" y="322.3" width="5.0" height="5.0" fill="#0000ff"/><rect x="250.0" y="306.3" width="5.0" height="5.0" fill="#0000ff"/><rect x="237.9" y="290.8" width="5.0" height="5.0" fill="#0000ff"/><rect x="224.8" y="274.2" width="7.4" height="7.4" fill="#0000ff"/><rect x="214.5" y="260.5" width="5.0" height="5.0" fill="#0000ff"/><rect x="199.5" y="250.5" width="5.0" height="5.0" fill="#0000ff"/><rect x="187.1" y="246.5" width="5.0" height="5.0" fill="#0000ff"/><rect x="174.6" y="243.3" width="7.4" height="7.4" fill="#0000ff"/><rect x="166.4" y="247.7" width="5.0" height="5.0" fill="#0000ff"/><rect x="155.9" y="249.9" width="5.0" height="5.0" fill="#0000ff"/><rect x="148.4" y="253.0" width="5.0" height="5.0" fill="#0000ff"/><rect x="144.1" y="249.3" width="7.4" height="7.4" fill="#0000ff"/>
<path d="M294.7 330.0C293.2 329.2 288.9 327.0 286.0 325.3C283.1 323.6 279.8 321.1 277.0 319.7C274.2 318.3 272.1 318.1 269.0 317.0C265.9 315.9 263.9 316.7 258.5 313.0C253.1 309.3 243.3 300.2 236.8 294.7C230.3 289.2 223.7 283.5 219.4 280.0C215.1 276.5 213.5 275.3 211.0 273.5C208.5 271.7 206.7 270.1 204.3 269.2C201.9 268.3 198.2 268.9 196.5 268.3C194.8 267.7 195.0 266.6 194.4 265.3C193.8 264.0 193.5 262.0 193.2 260.5C192.9 259.0 193.2 257.9 192.4 256.1C191.6 254.4 190.1 251.8 188.5 250.0C186.9 248.2 186.6 246.6 182.8 245.2C179.0 243.8 171.6 242.4 165.8 241.5C160.0 240.6 154.0 239.1 147.8 239.5C141.6 239.9 135.1 242.4 128.8 244.2C122.5 246.0 113.3 249.3 110.2 250.3" fill="none" stroke="#00ff00" stroke-width="1.75" stroke-linejoin="round"/><circle cx="258.5" cy="313.0" r="2.6" fill="#00ff00"/><circle cx="236.8" cy="294.7" r="2.6" fill="#00ff00"/><circle cx="219.4" cy="280.0" r="2.6" fill="#00ff00"/><circle cx="204.3" cy="269.2" r="3.8" fill="#00ff00"/><circle cx="196.5" cy="268.3" r="2.6" fill="#00ff00"/><circle cx="194.4" cy="265.3" r="2.6" fill="#00ff00"/><circle cx="192.4" cy="256.1" r="2.6" fill="#00ff00"/><circle cx="182.8" cy="245.2" r="3.8" fill="#00ff00"/><circle cx="165.8" cy="241.5" r="2.6" fill="#00ff00"/><circle cx="147.8" cy="239.5" r="2.6" fill="#00ff00"/><circle cx="128.8" cy="244.2" r="2.6" fill="#00ff00"/><circle cx="110.2" cy="250.3" r="3.8" fill="#00ff00"/>
<path d="M304.0 345.3C302.8 345.5 299.3 346.3 297.0 346.4C294.7 346.5 293.0 347.5 290.3 346.0C287.6 344.5 283.4 340.0 281.0 337.3C278.6 334.6 277.6 332.7 276.0 330.0C274.4 327.3 273.2 324.2 271.5 321.0C269.8 317.8 267.6 313.9 266.0 311.0C264.4 308.1 263.7 306.3 262.2 303.6C260.7 300.9 258.5 297.9 257.0 295.0C255.5 292.1 254.3 289.3 253.4 286.5C252.5 283.7 252.0 280.8 251.3 278.0C250.6 275.2 250.1 272.3 249.2 269.6C248.3 266.9 247.4 264.6 246.0 262.0C244.6 259.4 244.4 258.2 240.6 254.0C236.8 249.8 227.3 241.1 223.2 236.8C219.1 232.5 218.4 230.6 216.0 228.0C213.6 225.4 211.2 223.3 208.9 221.2C206.6 219.1 205.1 217.3 202.0 215.6C198.9 213.8 193.4 212.3 190.3 210.7C187.2 209.1 186.0 207.7 183.4 205.8C180.8 203.9 176.0 200.6 174.5 199.5" fill="none" stroke="#ff0000" stroke-width="1.75" stroke-linejoin="round"/><path d="M290.3 343.9 L293.0 348.5 L287.6 348.5Z" fill="#ff0000"/><path d="M281.0 335.2 L283.7 339.8 L278.3 339.8Z" fill="#ff0000"/><path d="M271.5 318.9 L274.2 323.5 L268.8 323.5Z" fill="#ff0000"/><path d="M262.2 301.5 L264.9 306.1 L259.5 306.1Z" fill="#ff0000"/><path d="M253.4 284.4 L256.1 289.0 L250.7 289.0Z" fill="#ff0000"/><path d="M249.2 267.5 L251.9 272.1 L246.5 272.1Z" fill="#ff0000"/><path d="M240.6 251.9 L243.3 256.5 L237.9 256.5Z" fill="#ff0000"/><path d="M223.2 234.7 L225.9 239.3 L220.5 239.3Z" fill="#ff0000"/><path d="M208.9 219.1 L211.6 223.7 L206.2 223.7Z" fill="#ff0000"/><path d="M190.3 208.6 L193.0 213.2 L187.6 213.2Z" fill="#ff0000"/><path d="M174.5 197.4 L177.2 202.0 L171.8 202.0Z" fill="#ff0000"/>
<path d="M304.0 345.3C301.8 344.2 294.7 341.9 290.7 338.9C286.7 335.9 282.5 331.6 280.0 327.4C277.5 323.1 276.9 318.1 275.7 313.4C274.5 308.7 273.6 302.9 272.8 299.2C272.0 295.5 271.9 293.8 271.0 291.0C270.1 288.2 269.4 285.6 267.5 282.5C265.6 279.4 263.3 276.2 259.7 272.2C256.1 268.2 251.2 264.6 245.7 258.6C240.2 252.6 233.7 243.4 226.9 236.1C220.2 228.8 212.1 221.2 205.2 215.0C198.3 208.8 188.9 201.6 185.7 198.9" fill="none" stroke="#0000ff" stroke-width="1.75" stroke-linejoin="round"/><rect x="288.2" y="336.4" width="5.0" height="5.0" fill="#0000ff"/><rect x="277.5" y="324.9" width="5.0" height="5.0" fill="#0000ff"/><rect x="273.2" y="310.9" width="5.0" height="5.0" fill="#0000ff"/><rect x="269.1" y="295.5" width="7.4" height="7.4" fill="#0000ff"/><rect x="268.5" y="288.5" width="5.0" height="5.0" fill="#0000ff"/><rect x="257.2" y="269.7" width="5.0" height="5.0" fill="#0000ff"/><rect x="243.2" y="256.1" width="5.0" height="5.0" fill="#0000ff"/><rect x="223.2" y="232.4" width="7.4" height="7.4" fill="#0000ff"/><rect x="202.7" y="212.5" width="5.0" height="5.0" fill="#0000ff"/><rect x="183.2" y="196.4" width="5.0" height="5.0" fill="#0000ff"/>
<path d="M304.0 345.3C302.0 343.2 295.8 337.1 292.0 333.0C288.2 328.9 283.6 324.2 281.0 320.5C278.4 316.8 278.2 313.8 276.5 311.0C274.8 308.2 272.3 306.8 270.5 303.5C268.7 300.2 267.1 294.1 265.5 291.0C263.9 287.9 263.1 287.3 260.8 284.8C258.5 282.3 254.7 278.8 251.7 275.8C248.7 272.8 245.6 269.2 243.0 267.0C240.4 264.8 238.5 264.2 236.0 262.5C233.5 260.8 232.5 260.3 227.9 256.8C223.3 253.3 213.6 245.6 208.3 241.6C203.0 237.6 200.1 235.4 196.0 233.0C191.9 230.6 189.7 228.5 184.0 227.4C178.3 226.3 169.0 225.6 162.1 226.6C155.2 227.6 148.6 229.7 142.6 233.3C136.6 236.9 131.2 243.0 126.0 248.4C120.8 253.8 114.6 261.5 111.5 265.5C108.4 269.5 108.2 270.1 107.4 272.3C106.6 274.5 106.8 276.8 106.8 278.5C106.8 280.2 106.8 281.4 107.2 282.6C107.6 283.8 108.1 285.0 109.0 285.8C109.9 286.6 112.2 287.2 112.8 287.5" fill="none" stroke="#00ff00" stroke-width="1.75" stroke-linejoin="round"/><circle cx="281.0" cy="320.5" r="2.6" fill="#00ff00"/><circle cx="270.5" cy="303.5" r="2.6" fill="#00ff00"/><circle cx="251.7" cy="275.8" r="2.6" fill="#00ff00"/><circle cx="227.9" cy="256.8" r="3.8" fill="#00ff00"/><circle cx="208.3" cy="241.6" r="2.6" fill="#00ff00"/><circle cx="184.0" cy="227.4" r="2.6" fill="#00ff00"/><circle cx="162.1" cy="226.6" r="2.6" fill="#00ff00"/><circle cx="142.6" cy="233.3" r="3.8" fill="#00ff00"/><circle cx="126.0" cy="248.4" r="2.6" fill="#00ff00"/><circle cx="111.5" cy="265.5" r="2.6" fill="#00ff00"/><circle cx="107.2" cy="282.6" r="2.6" fill="#00ff00"/><circle cx="112.8" cy="287.5" r="3.8" fill="#00ff00"/>
<path d="M307.7 360.3C306.2 360.4 301.5 360.6 299.0 360.6C296.5 360.6 294.8 360.8 292.7 360.2C290.6 359.6 288.5 358.0 286.5 357.0C284.5 356.0 282.8 355.0 280.6 354.2C278.4 353.4 275.9 352.5 273.5 352.0C271.1 351.5 268.4 351.5 266.3 351.0C264.2 350.5 262.6 349.8 261.0 349.0C259.4 348.2 258.0 346.8 256.8 346.0C255.6 345.2 254.9 344.8 254.0 344.3C253.1 343.8 252.2 343.4 251.5 343.2C250.8 342.9 250.1 342.8 249.6 342.8C249.1 342.9 248.4 343.1 248.4 343.5C248.4 343.9 248.9 344.9 249.3 345.5C249.7 346.1 250.2 346.5 250.6 347.4C251.0 348.3 251.4 349.7 251.9 351.0C252.4 352.3 253.0 354.0 253.7 355.4C254.4 356.8 255.5 358.7 255.9 359.4" fill="none" stroke="#ff0000" stroke-width="1.75" stroke-linejoin="round"/><path d="M292.7 358.1 L295.4 362.7 L290.0 362.7Z" fill="#ff0000"/><path d="M280.6 352.1 L283.3 356.7 L277.9 356.7Z" fill="#ff0000"/><path d="M266.3 348.9 L269.0 353.5 L263.6 353.5Z" fill="#ff0000"/><path d="M256.8 343.0 L260.7 349.7 L252.9 349.7Z" fill="#ff0000"/><path d="M248.4 340.5 L252.3 347.2 L244.5 347.2Z" fill="#ff0000"/><path d="M250.6 345.3 L253.3 349.9 L247.9 349.9Z" fill="#ff0000"/><path d="M251.9 348.9 L254.6 353.5 L249.2 353.5Z" fill="#ff0000"/><path d="M253.7 353.3 L256.4 357.9 L251.0 357.9Z" fill="#ff0000"/><path d="M255.9 356.4 L259.8 363.1 L252.0 363.1Z" fill="#ff0000"/>
<path d="M307.7 360.3C305.4 359.4 298.4 357.7 294.0 355.0C289.6 352.3 285.0 348.1 281.0 344.2C277.0 340.3 273.3 336.5 269.8 331.7C266.3 326.9 262.7 321.2 259.9 315.6C257.1 310.1 254.8 304.0 253.2 298.4C251.6 292.8 251.7 286.7 250.6 282.0C249.5 277.3 248.8 274.1 246.6 270.1C244.4 266.1 241.0 261.5 237.3 258.2C233.6 254.9 228.7 253.0 224.4 250.3C220.1 247.6 215.9 245.5 211.5 242.2C207.1 238.9 202.8 234.3 197.7 230.3C192.6 226.3 183.5 220.1 180.7 218.1" fill="none" stroke="#0000ff" stroke-width="1.75" stroke-linejoin="round"/><rect x="291.5" y="352.5" width="5.0" height="5.0" fill="#0000ff"/><rect x="278.5" y="341.7" width="5.0" height="5.0" fill="#0000ff"/><rect x="267.3" y="329.2" width="5.0" height="5.0" fill="#0000ff"/><rect x="256.2" y="311.9" width="7.4" height="7.4" fill="#0000ff"/><rect x="250.7" y="295.9" width="5.0" height="5.0" fill="#0000ff"/><rect x="248.1" y="279.5" width="5.0" height="5.0" fill="#0000ff"/><rect x="244.1" y="267.6" width="5.0" height="5.0" fill="#0000ff"/><rect x="233.6" y="254.5" width="7.4" height="7.4" fill="#0000ff"/><rect x="221.9" y="247.8" width="5.0" height="5.0" fill="#0000ff"/><rect x="209.0" y="239.7" width="5.0" height="5.0" fill="#0000ff"/><rect x="195.2" y="227.8" width="5.0" height="5.0" fill="#0000ff"/><rect x="177.0" y="214.4" width="7.4" height="7.4" fill="#0000ff"/>
<path d="M307.7 360.3C305.0 357.5 296.1 349.8 291.5 343.3C286.9 336.8 282.9 327.1 280.0 321.2C277.1 315.3 275.7 310.9 274.0 308.0C272.3 305.1 270.9 305.7 270.0 303.7C269.1 301.7 269.3 298.6 268.5 296.0C267.7 293.4 266.7 291.6 265.0 288.0C263.3 284.4 260.8 279.0 258.5 274.5C256.2 270.0 254.3 265.2 251.4 260.8C248.5 256.4 244.7 252.0 241.0 248.0C237.3 244.0 233.8 240.9 229.4 237.0C225.0 233.1 219.2 227.4 214.5 224.3C209.8 221.2 206.7 220.4 201.5 218.4C196.3 216.4 188.7 213.5 183.4 212.6C178.1 211.7 176.3 212.0 169.8 213.1C163.3 214.2 152.7 215.7 144.4 219.4C136.1 223.1 126.4 230.7 120.2 235.5C114.0 240.3 111.0 244.0 107.0 248.0C103.0 252.0 98.2 257.6 96.5 259.5" fill="none" stroke="#00ff00" stroke-width="1.75" stroke-linejoin="round"/><circle cx="291.5" cy="343.3" r="2.6" fill="#00ff00"/><circle cx="251.4" cy="260.8" r="3.8" fill="#00ff00"/><circle cx="229.4" cy="237.0" r="2.6" fill="#00ff00"/><circle cx="201.5" cy="218.4" r="2.6" fill="#00ff00"/><circle cx="169.8" cy="213.1" r="2.6" fill="#00ff00"/><circle cx="144.4" cy="219.4" r="3.8" fill="#00ff00"/><circle cx="120.2" cy="235.5" r="2.6" fill="#00ff00"/><circle cx="96.5" cy="259.5" r="2.6" fill="#00ff00"/>
</g>
<path d="M294.7 324.8L296.0 328.3L299.6 328.4L296.7 330.7L297.8 334.2L294.7 332.1L291.6 334.2L292.7 330.7L289.8 328.4L293.4 328.3Z" fill="#000"/>
<path d="M304.0 340.1L305.3 343.6L308.9 343.7L306.0 346.0L307.1 349.5L304.0 347.4L300.9 349.5L302.0 346.0L299.1 343.7L302.7 343.6Z" fill="#000"/>
<path d="M307.7 355.1L309.0 358.6L312.6 358.7L309.7 361.0L310.8 364.5L307.7 362.4L304.6 364.5L305.7 361.0L302.8 358.7L306.4 358.6Z" fill="#000"/>
<g stroke="#808080" stroke-width="0.7" stroke-dasharray="6.2 5.8">
<path d="M137.3 592.5H474.7"/>
<path d="M137.3 582.5H474.7"/>
<path d="M137.3 572.5H474.7"/>
<path d="M137.3 562.5H474.7"/>
<path d="M137.3 552.5H474.7"/>
<path d="M137.3 542.5H474.7"/>
<path d="M137.3 532.5H474.7"/>
</g>
<path d="M144.4 592.6C148.9 592.8 162.4 593.6 171.4 594.0C180.4 594.4 189.4 594.3 198.4 594.7C207.4 595.1 218.8 596.5 225.4 596.5C232.0 596.5 233.5 595.9 238.0 595.0C242.5 594.1 248.0 592.1 252.4 591.0C256.8 589.9 261.2 588.7 264.6 588.5C268.0 588.3 270.5 588.9 273.0 589.7C275.5 590.5 277.3 592.5 279.4 593.4C281.5 594.3 283.6 595.7 285.4 595.3C287.2 594.9 288.6 592.9 290.0 591.0C291.4 589.1 292.4 586.5 294.1 584.1C295.8 581.7 298.2 578.2 300.3 576.7C302.4 575.2 302.7 575.1 306.4 575.2C310.1 575.3 318.2 576.8 322.7 577.5C327.2 578.2 329.0 579.3 333.4 579.4C337.8 579.5 344.5 578.0 349.0 577.9C353.5 577.8 355.9 578.8 360.4 578.5C364.9 578.2 371.3 576.6 375.8 576.4C380.3 576.2 381.0 577.4 387.4 577.5C393.8 577.6 407.3 577.8 414.4 577.2C421.5 576.7 425.3 575.5 429.8 574.2C434.3 572.9 437.2 571.7 441.4 569.2C445.5 566.7 450.2 562.1 454.7 559.3C459.2 556.5 466.1 553.5 468.4 552.4" fill="none" stroke="#ff0000" stroke-width="1.50" stroke-linejoin="round"/><path d="M171.4 591.9 L174.1 596.5 L168.7 596.5Z" fill="#ff0000"/><path d="M198.4 592.6 L201.1 597.2 L195.7 597.2Z" fill="#ff0000"/><path d="M225.4 594.4 L228.1 599.0 L222.7 599.0Z" fill="#ff0000"/><path d="M252.4 588.0 L256.3 594.7 L248.5 594.7Z" fill="#ff0000"/><path d="M279.4 591.3 L282.1 595.9 L276.7 595.9Z" fill="#ff0000"/><path d="M306.4 573.1 L309.1 577.7 L303.7 577.7Z" fill="#ff0000"/><path d="M333.4 577.3 L336.1 581.9 L330.7 581.9Z" fill="#ff0000"/><path d="M360.4 575.5 L364.3 582.2 L356.5 582.2Z" fill="#ff0000"/><path d="M387.4 575.4 L390.1 580.0 L384.7 580.0Z" fill="#ff0000"/><path d="M414.4 575.1 L417.1 579.7 L411.7 579.7Z" fill="#ff0000"/><path d="M441.4 567.1 L444.1 571.7 L438.7 571.7Z" fill="#ff0000"/><path d="M468.4 549.4 L472.3 556.1 L464.5 556.1Z" fill="#ff0000"/>
<path d="M144.4 572.3C146.5 573.0 152.5 575.0 157.0 576.5C161.5 578.0 167.1 580.2 171.4 581.0C175.7 581.8 178.5 580.5 183.0 581.0C187.5 581.5 191.3 583.3 198.4 584.1C205.5 584.9 216.4 586.0 225.4 586.0C234.4 586.0 246.3 584.3 252.4 584.1C258.5 583.9 259.6 584.6 262.0 585.0C264.4 585.4 265.2 586.5 267.0 586.6C268.8 586.7 270.9 586.2 273.0 585.5C275.1 584.8 277.3 583.6 279.4 582.5C281.5 581.4 283.3 579.5 285.4 578.7C287.5 577.9 288.5 577.7 292.0 577.8C295.5 577.9 299.5 579.4 306.4 579.1C313.3 578.8 326.3 576.8 333.4 576.0C340.5 575.2 344.5 574.5 349.0 574.2C353.5 573.9 354.0 574.2 360.4 574.2C366.8 574.2 378.4 574.7 387.4 574.5C396.4 574.3 405.4 573.0 414.4 573.1C423.4 573.2 432.4 575.5 441.4 575.4C450.4 575.3 463.9 573.2 468.4 572.7" fill="none" stroke="#0000ff" stroke-width="1.50" stroke-linejoin="round"/><rect x="168.9" y="578.5" width="5.0" height="5.0" fill="#0000ff"/><rect x="195.9" y="581.6" width="5.0" height="5.0" fill="#0000ff"/><rect x="222.9" y="583.5" width="5.0" height="5.0" fill="#0000ff"/><rect x="248.7" y="580.4" width="7.4" height="7.4" fill="#0000ff"/><rect x="276.9" y="580.0" width="5.0" height="5.0" fill="#0000ff"/><rect x="303.9" y="576.6" width="5.0" height="5.0" fill="#0000ff"/><rect x="330.9" y="573.5" width="5.0" height="5.0" fill="#0000ff"/><rect x="356.7" y="570.5" width="7.4" height="7.4" fill="#0000ff"/><rect x="384.9" y="572.0" width="5.0" height="5.0" fill="#0000ff"/><rect x="411.9" y="570.6" width="5.0" height="5.0" fill="#0000ff"/><rect x="438.9" y="572.9" width="5.0" height="5.0" fill="#0000ff"/><rect x="464.7" y="569.0" width="7.4" height="7.4" fill="#0000ff"/>
<path d="M144.4 542.5C148.9 542.4 162.4 542.4 171.4 541.9C180.4 541.4 192.8 540.0 198.4 539.4C204.0 538.8 202.7 538.8 205.0 538.0C207.3 537.2 209.1 534.8 212.5 534.4C215.9 534.0 222.5 534.2 225.4 535.7C228.3 537.2 227.2 541.0 229.8 543.1C232.4 545.2 237.2 546.7 241.0 548.1C244.8 549.5 248.9 550.9 252.4 551.6C255.9 552.4 259.1 552.6 262.0 552.6C264.9 552.6 266.7 551.2 269.6 551.8C272.5 552.4 275.7 554.6 279.4 556.0C283.1 557.4 287.1 560.1 291.6 559.9C296.1 559.7 299.4 555.2 306.4 554.9C313.4 554.6 326.3 557.1 333.4 558.0C340.5 558.9 344.5 559.3 349.0 560.0C353.5 560.7 354.0 561.1 360.4 562.2C366.8 563.3 380.3 565.2 387.4 566.5C394.5 567.8 398.5 569.2 403.0 570.0C407.5 570.8 408.0 571.1 414.4 571.3C420.8 571.5 434.6 572.0 441.4 571.0C448.2 570.0 451.2 567.1 455.0 565.0C458.8 562.9 461.8 559.9 464.0 558.5C466.2 557.1 467.7 557.1 468.4 556.8" fill="none" stroke="#00ff00" stroke-width="1.50" stroke-linejoin="round"/><circle cx="171.4" cy="541.9" r="2.6" fill="#00ff00"/><circle cx="198.4" cy="539.4" r="2.6" fill="#00ff00"/><circle cx="225.4" cy="535.7" r="2.6" fill="#00ff00"/><circle cx="252.4" cy="551.6" r="3.8" fill="#00ff00"/><circle cx="279.4" cy="556.0" r="2.6" fill="#00ff00"/><circle cx="306.4" cy="554.9" r="2.6" fill="#00ff00"/><circle cx="333.4" cy="558.0" r="2.6" fill="#00ff00"/><circle cx="360.4" cy="562.2" r="3.8" fill="#00ff00"/><circle cx="387.4" cy="566.5" r="2.6" fill="#00ff00"/><circle cx="414.4" cy="571.3" r="2.6" fill="#00ff00"/><circle cx="441.4" cy="571.0" r="2.6" fill="#00ff00"/><circle cx="468.4" cy="556.8" r="3.8" fill="#00ff00"/>
<path d="M144.4 592.6C148.9 592.9 162.4 594.0 171.4 594.4C180.4 594.8 189.4 594.8 198.4 595.2C207.4 595.6 216.4 596.8 225.4 596.8C234.4 596.8 243.4 595.9 252.4 595.3C261.4 594.7 272.9 593.7 279.4 593.4C285.9 593.1 287.1 593.3 291.6 593.4C296.1 593.5 299.4 594.5 306.4 594.2C313.4 593.9 326.3 592.6 333.4 591.8C340.5 590.9 344.5 590.0 349.0 589.1C353.5 588.2 355.9 587.4 360.4 586.5C364.9 585.6 371.3 584.0 375.8 583.6C380.3 583.2 383.3 584.2 387.4 584.0C391.5 583.8 396.1 582.3 400.6 582.2C405.1 582.1 407.6 583.9 414.4 583.4C421.2 582.9 436.1 580.5 441.4 579.2C446.7 577.9 443.8 577.2 446.0 575.5C448.2 573.8 452.2 571.9 454.7 569.2C457.2 566.5 458.6 562.1 460.9 559.3C463.2 556.5 467.1 553.5 468.4 552.4" fill="none" stroke="#ff0000" stroke-width="1.50" stroke-linejoin="round"/><path d="M171.4 592.3 L174.1 596.9 L168.7 596.9Z" fill="#ff0000"/><path d="M198.4 593.1 L201.1 597.7 L195.7 597.7Z" fill="#ff0000"/><path d="M225.4 594.7 L228.1 599.3 L222.7 599.3Z" fill="#ff0000"/><path d="M252.4 592.3 L256.3 599.0 L248.5 599.0Z" fill="#ff0000"/><path d="M279.4 591.3 L282.1 595.9 L276.7 595.9Z" fill="#ff0000"/><path d="M306.4 592.1 L309.1 596.7 L303.7 596.7Z" fill="#ff0000"/><path d="M333.4 589.7 L336.1 594.3 L330.7 594.3Z" fill="#ff0000"/><path d="M360.4 583.5 L364.3 590.2 L356.5 590.2Z" fill="#ff0000"/><path d="M387.4 581.9 L390.1 586.5 L384.7 586.5Z" fill="#ff0000"/><path d="M414.4 581.3 L417.1 585.9 L411.7 585.9Z" fill="#ff0000"/><path d="M441.4 577.1 L444.1 581.7 L438.7 581.7Z" fill="#ff0000"/><path d="M468.4 549.4 L472.3 556.1 L464.5 556.1Z" fill="#ff0000"/>
<path d="M144.4 572.3C146.5 572.9 152.5 574.8 157.0 576.0C161.5 577.2 164.5 579.1 171.4 579.6C178.3 580.1 189.4 579.7 198.4 579.1C207.4 578.5 216.4 577.2 225.4 576.3C234.4 575.4 243.4 574.0 252.4 573.5C261.4 573.0 272.9 572.9 279.4 573.0C285.9 573.1 287.1 573.8 291.6 574.2C296.1 574.6 299.4 575.2 306.4 575.4C313.4 575.6 326.3 575.7 333.4 575.4C340.5 575.1 344.5 574.1 349.0 573.5C353.5 572.9 354.0 571.5 360.4 571.5C366.8 571.5 378.4 573.0 387.4 573.2C396.4 573.4 407.3 573.1 414.4 572.7C421.5 572.3 425.3 571.9 429.8 571.0C434.3 570.1 438.7 568.7 441.4 567.3C444.1 565.9 443.4 563.5 446.0 562.4C448.6 561.3 453.3 561.4 457.0 560.5C460.7 559.6 466.5 557.6 468.4 557.0" fill="none" stroke="#0000ff" stroke-width="1.50" stroke-linejoin="round"/><rect x="168.9" y="577.1" width="5.0" height="5.0" fill="#0000ff"/><rect x="195.9" y="576.6" width="5.0" height="5.0" fill="#0000ff"/><rect x="222.9" y="573.8" width="5.0" height="5.0" fill="#0000ff"/><rect x="248.7" y="569.8" width="7.4" height="7.4" fill="#0000ff"/><rect x="276.9" y="570.5" width="5.0" height="5.0" fill="#0000ff"/><rect x="303.9" y="572.9" width="5.0" height="5.0" fill="#0000ff"/><rect x="330.9" y="572.9" width="5.0" height="5.0" fill="#0000ff"/><rect x="356.7" y="567.8" width="7.4" height="7.4" fill="#0000ff"/><rect x="384.9" y="570.7" width="5.0" height="5.0" fill="#0000ff"/><rect x="411.9" y="570.2" width="5.0" height="5.0" fill="#0000ff"/><rect x="438.9" y="564.8" width="5.0" height="5.0" fill="#0000ff"/><rect x="464.7" y="553.3" width="7.4" height="7.4" fill="#0000ff"/>
<path d="M144.4 542.5C146.5 543.9 152.5 548.0 157.0 551.0C161.5 554.0 167.1 558.5 171.4 560.5C175.7 562.5 178.5 562.2 183.0 563.0C187.5 563.8 191.3 564.8 198.4 565.5C205.5 566.2 216.4 567.0 225.4 567.0C234.4 567.0 243.4 566.0 252.4 565.5C261.4 565.0 272.9 565.2 279.4 564.2C285.9 563.2 287.1 560.4 291.6 559.3C296.1 558.2 299.4 558.6 306.4 557.5C313.4 556.4 326.3 554.1 333.4 552.6C340.5 551.1 344.5 549.6 349.0 548.7C353.5 547.9 354.0 547.7 360.4 547.5C366.8 547.3 380.3 547.9 387.4 547.5C394.5 547.1 398.5 545.6 403.0 545.2C407.5 544.8 408.0 545.0 414.4 545.0C420.8 545.0 432.4 544.9 441.4 545.4C450.4 545.9 463.9 547.8 468.4 548.3" fill="none" stroke="#00ff00" stroke-width="1.50" stroke-linejoin="round"/><circle cx="171.4" cy="560.5" r="2.6" fill="#00ff00"/><circle cx="198.4" cy="565.5" r="2.6" fill="#00ff00"/><circle cx="225.4" cy="567.0" r="2.6" fill="#00ff00"/><circle cx="252.4" cy="565.5" r="3.8" fill="#00ff00"/><circle cx="279.4" cy="564.2" r="2.6" fill="#00ff00"/><circle cx="306.4" cy="557.5" r="2.6" fill="#00ff00"/><circle cx="333.4" cy="552.6" r="2.6" fill="#00ff00"/><circle cx="360.4" cy="547.5" r="3.8" fill="#00ff00"/><circle cx="387.4" cy="547.5" r="2.6" fill="#00ff00"/><circle cx="414.4" cy="545.0" r="2.6" fill="#00ff00"/><circle cx="441.4" cy="545.4" r="2.6" fill="#00ff00"/><circle cx="468.4" cy="548.3" r="3.8" fill="#00ff00"/>
<path d="M144.4 592.6C148.9 593.3 162.4 595.7 171.4 596.6C180.4 597.5 189.4 597.4 198.4 597.8C207.4 598.2 216.4 599.2 225.4 599.0C234.4 598.8 243.4 596.6 252.4 596.3C261.4 596.0 270.4 596.6 279.4 597.0C288.4 597.4 297.4 598.2 306.4 598.6C315.4 599.0 326.3 599.6 333.4 599.6C340.5 599.6 344.5 598.7 349.0 598.4C353.5 598.1 354.0 597.8 360.4 597.6C366.8 597.5 378.4 597.5 387.4 597.5C396.4 597.5 408.1 597.8 414.4 597.8C420.7 597.8 420.5 597.9 425.0 597.5C429.5 597.1 434.2 595.9 441.4 595.4C448.6 594.9 463.9 594.7 468.4 594.6" fill="none" stroke="#ff0000" stroke-width="1.50" stroke-linejoin="round"/><path d="M171.4 594.5 L174.1 599.1 L168.7 599.1Z" fill="#ff0000"/><path d="M198.4 595.7 L201.1 600.3 L195.7 600.3Z" fill="#ff0000"/><path d="M225.4 596.9 L228.1 601.5 L222.7 601.5Z" fill="#ff0000"/><path d="M252.4 593.3 L256.3 600.0 L248.5 600.0Z" fill="#ff0000"/><path d="M279.4 594.9 L282.1 599.5 L276.7 599.5Z" fill="#ff0000"/><path d="M306.4 596.5 L309.1 601.1 L303.7 601.1Z" fill="#ff0000"/><path d="M333.4 597.5 L336.1 602.1 L330.7 602.1Z" fill="#ff0000"/><path d="M360.4 594.6 L364.3 601.3 L356.5 601.3Z" fill="#ff0000"/><path d="M387.4 595.4 L390.1 600.0 L384.7 600.0Z" fill="#ff0000"/><path d="M414.4 595.7 L417.1 600.3 L411.7 600.3Z" fill="#ff0000"/><path d="M441.4 593.3 L444.1 597.9 L438.7 597.9Z" fill="#ff0000"/><path d="M468.4 591.6 L472.3 598.3 L464.5 598.3Z" fill="#ff0000"/>
<path d="M144.4 572.3C148.9 572.6 162.4 574.4 171.4 574.2C180.4 574.1 192.8 572.2 198.4 571.4C204.0 570.6 200.5 570.2 205.0 569.2C209.5 568.2 217.5 565.6 225.4 565.5C233.3 565.4 243.4 567.7 252.4 568.6C261.4 569.5 272.9 570.7 279.4 571.0C285.9 571.3 288.5 571.5 291.6 570.4C294.7 569.3 296.2 565.8 297.8 564.2C299.4 562.6 300.1 561.6 301.5 561.0C302.9 560.4 302.9 560.0 306.4 560.3C309.9 560.6 318.2 562.5 322.7 563.0C327.2 563.5 329.0 563.5 333.4 563.2C337.8 562.9 344.5 562.2 349.0 561.1C353.5 560.0 354.0 557.9 360.4 556.8C366.8 555.7 378.4 555.6 387.4 554.5C396.4 553.4 408.9 551.4 414.4 550.3C419.9 549.2 418.3 549.6 420.5 548.0C422.7 546.4 425.1 542.8 427.4 540.6C429.7 538.4 432.2 536.3 434.5 535.0C436.8 533.7 438.0 533.9 441.4 532.6C444.8 531.3 450.2 528.2 454.7 527.0C459.2 525.8 466.1 525.8 468.4 525.5" fill="none" stroke="#0000ff" stroke-width="1.50" stroke-linejoin="round"/><rect x="168.9" y="571.7" width="5.0" height="5.0" fill="#0000ff"/><rect x="195.9" y="568.9" width="5.0" height="5.0" fill="#0000ff"/><rect x="222.9" y="563.0" width="5.0" height="5.0" fill="#0000ff"/><rect x="248.7" y="564.9" width="7.4" height="7.4" fill="#0000ff"/><rect x="276.9" y="568.5" width="5.0" height="5.0" fill="#0000ff"/><rect x="303.9" y="557.8" width="5.0" height="5.0" fill="#0000ff"/><rect x="330.9" y="560.7" width="5.0" height="5.0" fill="#0000ff"/><rect x="356.7" y="553.1" width="7.4" height="7.4" fill="#0000ff"/><rect x="384.9" y="552.0" width="5.0" height="5.0" fill="#0000ff"/><rect x="411.9" y="547.8" width="5.0" height="5.0" fill="#0000ff"/><rect x="438.9" y="530.1" width="5.0" height="5.0" fill="#0000ff"/><rect x="464.7" y="521.8" width="7.4" height="7.4" fill="#0000ff"/>
<path d="M144.4 542.5C148.9 542.2 162.4 541.9 171.4 540.6C180.4 539.4 192.8 535.8 198.4 535.0C204.0 534.2 203.0 534.6 205.0 535.7C207.0 536.9 208.1 542.6 210.6 541.9C213.1 541.2 217.4 532.8 219.9 531.3C222.4 529.8 223.0 531.9 225.4 532.6C227.8 533.3 232.0 536.8 234.2 535.7C236.4 534.6 237.1 527.9 238.5 525.9C239.9 523.9 240.6 523.2 242.9 523.6C245.2 524.0 246.3 526.9 252.4 528.5C258.5 530.1 272.8 531.7 279.4 533.4C286.0 535.1 287.5 536.9 292.0 538.8C296.5 540.7 299.5 542.6 306.4 545.0C313.3 547.4 326.3 550.6 333.4 553.0C340.5 555.4 344.5 557.8 349.0 559.3C353.5 560.8 354.0 561.0 360.4 562.0C366.8 563.0 378.4 564.6 387.4 565.5C396.4 566.4 405.4 567.0 414.4 567.6C423.4 568.2 432.4 569.0 441.4 569.0C450.4 569.0 463.9 567.6 468.4 567.3" fill="none" stroke="#00ff00" stroke-width="1.50" stroke-linejoin="round"/><circle cx="171.4" cy="540.6" r="2.6" fill="#00ff00"/><circle cx="198.4" cy="535.0" r="2.6" fill="#00ff00"/><circle cx="225.4" cy="532.6" r="2.6" fill="#00ff00"/><circle cx="252.4" cy="528.5" r="3.8" fill="#00ff00"/><circle cx="279.4" cy="533.4" r="2.6" fill="#00ff00"/><circle cx="306.4" cy="545.0" r="2.6" fill="#00ff00"/><circle cx="333.4" cy="553.0" r="2.6" fill="#00ff00"/><circle cx="360.4" cy="562.0" r="3.8" fill="#00ff00"/><circle cx="387.4" cy="565.5" r="2.6" fill="#00ff00"/><circle cx="414.4" cy="567.6" r="2.6" fill="#00ff00"/><circle cx="441.4" cy="569.0" r="2.6" fill="#00ff00"/><circle cx="468.4" cy="567.3" r="3.8" fill="#00ff00"/>
<path d="M143.9 587.3L145.2 590.8L148.8 590.9L145.9 593.2L147.0 596.7L143.9 594.6L140.8 596.7L141.9 593.2L139.0 590.9L142.6 590.8Z" fill="#000"/>
<path d="M143.9 567.3L145.2 570.8L148.8 570.9L145.9 573.2L147.0 576.7L143.9 574.6L140.8 576.7L141.9 573.2L139.0 570.9L142.6 570.8Z" fill="#000"/>
<path d="M143.9 537.3L145.2 540.8L148.8 540.9L145.9 543.2L147.0 546.7L143.9 544.6L140.8 546.7L141.9 543.2L139.0 540.9L142.6 540.8Z" fill="#000"/>
<g stroke="#000" fill="none">
<path d="M95.5 197.5V630.5M516.5 197.5V630.5" stroke-width="1"/>
<path d="M95 198H517M95 522H517M95 603H517M95 630H517" stroke-width="1.15"/>
<path d="M171.4 603V607" stroke-width="0.7"/>
<path d="M198.4 603V607" stroke-width="0.7"/>
<path d="M225.4 603V607" stroke-width="0.7"/>
<path d="M252.4 603V607" stroke-width="0.7"/>
<path d="M279.4 603V607" stroke-width="0.7"/>
<path d="M306.4 603V607" stroke-width="0.7"/>
<path d="M333.4 603V607" stroke-width="0.7"/>
<path d="M360.4 603V607" stroke-width="0.7"/>
<path d="M387.4 603V607" stroke-width="0.7"/>
<path d="M414.4 603V607" stroke-width="0.7"/>
<path d="M441.4 603V607" stroke-width="0.7"/>
<path d="M468.4 603V607" stroke-width="0.7"/>
</g>
<g font-family="'Liberation Sans',sans-serif" fill="#000">
<text transform="translate(305.7 152.5) scale(1.061 1)" font-size="13.2" text-anchor="middle">NOAA HYSPLIT MODEL</text>
<text transform="translate(307.0 169.7) scale(1.046 1)" font-size="15.3" text-anchor="middle">Backward trajectories ending at 0000 UTC 01 Jan 11</text>
<text transform="translate(313.8 186.7) scale(1.061 1)" font-size="13.2" text-anchor="middle">GDAS Meteorological Data</text>
<text transform="translate(117.4 596.4) scale(1.071 1)" font-size="11.2" text-anchor="middle">500</text>
<text transform="translate(117.4 576.4) scale(1.071 1)" font-size="11.2" text-anchor="middle">1500</text>
<text transform="translate(117.4 546.4) scale(1.071 1)" font-size="11.2" text-anchor="middle">3000</text>
<text transform="translate(495.2 596.4) scale(1.071 1)" font-size="11.2" text-anchor="middle">500</text>
<text transform="translate(495.2 586.4) scale(1.071 1)" font-size="11.2" text-anchor="middle">1000</text>
<text transform="translate(495.2 576.4) scale(1.071 1)" font-size="11.2" text-anchor="middle">1500</text>
<text transform="translate(495.2 566.4) scale(1.071 1)" font-size="11.2" text-anchor="middle">2000</text>
<text transform="translate(495.2 556.4) scale(1.071 1)" font-size="11.2" text-anchor="middle">2500</text>
<text transform="translate(495.2 546.4) scale(1.071 1)" font-size="11.2" text-anchor="middle">3000</text>
<text transform="translate(495.2 536.4) scale(1.071 1)" font-size="11.2" text-anchor="middle">3500</text>
<text transform="translate(171.4 616.6) scale(1.087 1)" font-size="9.2" text-anchor="middle">18</text>
<text transform="translate(198.4 616.6) scale(1.087 1)" font-size="9.2" text-anchor="middle">12</text>
<text transform="translate(225.4 616.6) scale(1.087 1)" font-size="9.2" text-anchor="middle">06</text>
<text transform="translate(252.4 616.6) scale(1.087 1)" font-size="9.2" text-anchor="middle">00</text>
<text transform="translate(279.4 616.6) scale(1.087 1)" font-size="9.2" text-anchor="middle">18</text>
<text transform="translate(306.4 616.6) scale(1.087 1)" font-size="9.2" text-anchor="middle">12</text>
<text transform="translate(333.4 616.6) scale(1.087 1)" font-size="9.2" text-anchor="middle">06</text>
<text transform="translate(360.4 616.6) scale(1.087 1)" font-size="9.2" text-anchor="middle">00</text>
<text transform="translate(387.4 616.6) scale(1.087 1)" font-size="9.2" text-anchor="middle">18</text>
<text transform="translate(414.4 616.6) scale(1.087 1)" font-size="9.2" text-anchor="middle">12</text>
<text transform="translate(441.4 616.6) scale(1.087 1)" font-size="9.2" text-anchor="middle">06</text>
<text transform="translate(468.4 616.6) scale(1.087 1)" font-size="9.2" text-anchor="middle">00</text>
<text transform="translate(252.4 626.9) scale(1.087 1)" font-size="9.2" text-anchor="middle">12/31</text>
<text transform="translate(360.4 626.9) scale(1.087 1)" font-size="9.2" text-anchor="middle">12/30</text>
<text transform="translate(468.4 626.9) scale(1.087 1)" font-size="9.2" text-anchor="middle">12/29</text>
<text transform="translate(87.2 434.2) rotate(-90)" font-size="14">Source</text>
<text transform="translate(87.2 237.3) rotate(-90)" font-size="14" text-anchor="end">at multiple locations</text>
<text transform="translate(87.3 597.0) rotate(-90)" font-size="14">Meters AGL</text>
</g>
<text transform="translate(88.0 376.2) rotate(-90)" font-family="'DejaVu Sans',sans-serif" font-size="15" text-anchor="middle" fill="#000">★</text>
</svg>
</body></html>
